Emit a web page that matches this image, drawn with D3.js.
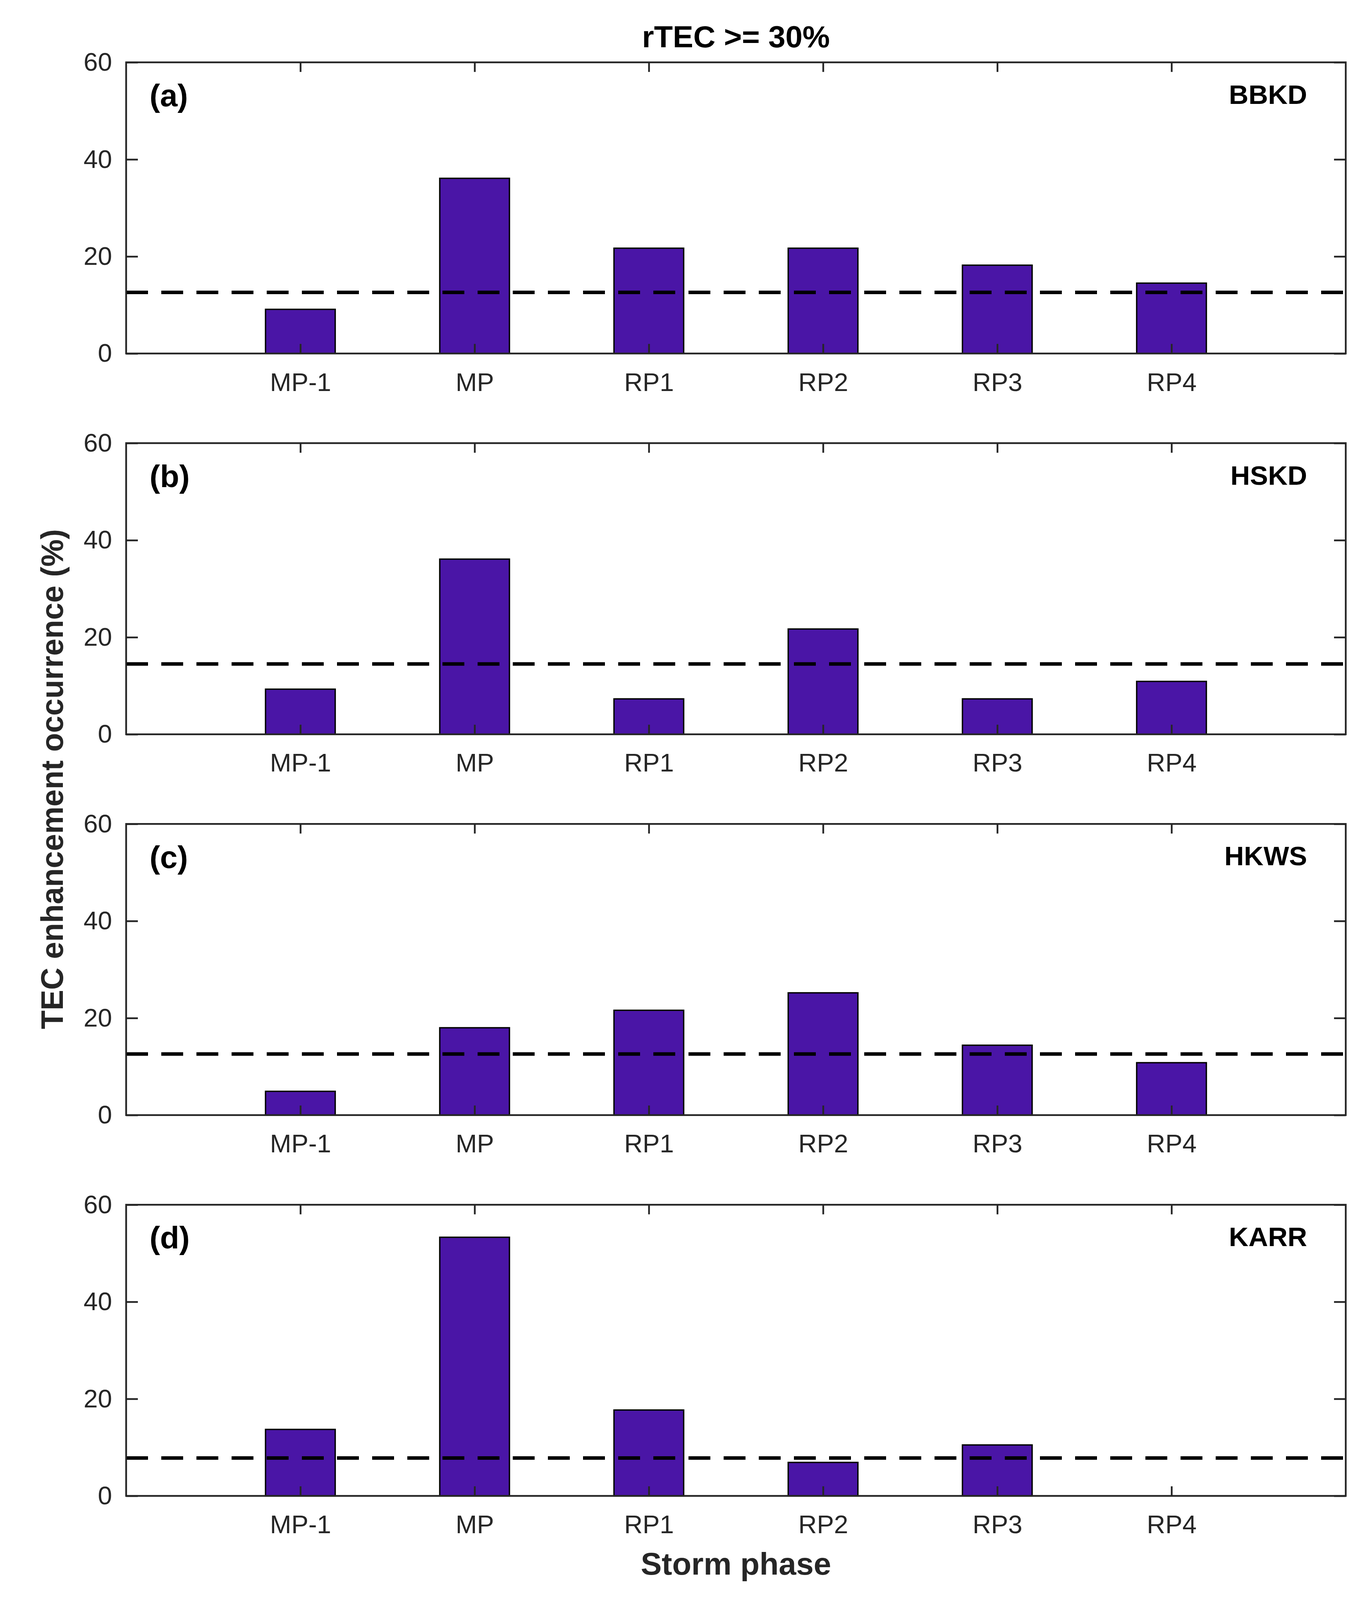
<!DOCTYPE html>
<html>
<head>
<meta charset="utf-8">
<script src="https://cdn.jsdelivr.net/npm/d3@7"></script>
<style>
    html, body { margin: 0; padding: 0; background: #ffffff; overflow: hidden; }
    svg { display: block; }
    text { font-family: "Liberation Sans", Arial, Helvetica, sans-serif; }
</style>
</head>
<body>
<div id="container"></div>
<script>
// Chart data
var phases = ["MP-1", "MP", "RP1", "RP2", "RP3", "RP4"]
var stations = ["BBKD", "HSKD", "HKWS", "KARR"]
var panel_tags = ["(a)", "(b)", "(c)", "(d)"]
var bbkd_values = [9.1, 36.1, 21.7, 21.7, 18.2, 14.5]
var hskd_values = [9.3, 36.1, 7.3, 21.7, 7.3, 10.9]
var hkws_values = [4.9, 18.0, 21.6, 25.2, 14.4, 10.8]
var karr_values = [13.7, 53.3, 17.7, 6.9, 10.5, 0]
var mean_levels = [12.6, 14.5, 12.6, 7.8]
var y_ticks = [0, 20, 40, 60]

var series = [bbkd_values, hskd_values, hkws_values, karr_values]

// Layout is designed for 3503x4671 and stretched to whatever window we get
var base_w = 3503, base_h = 4671
var width = window.innerWidth || base_w
var height = window.innerHeight || base_h
var sx = width / base_w
var sy = Math.min(height / base_h, 1)
height = Math.round(base_h * sy)

var left = 323 * sx, right = 3446 * sx
var first_top = 182 * sy, step = 1111.7 * sy, plot_h = 850 * sy
var fs = Math.sqrt(sx * sy)   // horizontal texts
var bar_color = "#4a15a6"
var axis_color = "#262626"

var svg = d3.select("#container").append("svg")
        .attr("width", width)
        .attr("height", height)

svg.append("rect").attr("width", width).attr("height", height).attr("fill", "#ffffff")

var x = d3.scaleLinear().domain([0, phases.length + 1]).range([left, right])

function draw_panel(k) {
    var top = first_top + k * step
    var bottom = top + plot_h
    var y = d3.scaleLinear().domain([0, 60]).range([bottom, top])
    var g = svg.append("g")
    var values = series[k]

    // Bars
    g.selectAll("rect.bar").data(values).enter().append("rect")
            .attr("class", "bar")
            .attr("x", function(d, i) { return x(i + 1 - 0.2) })
            .attr("width", x(0.4) - x(0))
            .attr("y", function(d) { return y(d) })
            .attr("height", function(d) { return y(0) - y(d) })
            .attr("fill", bar_color)
            .attr("stroke", "#000000")
            .attr("stroke-width", 3.5)

    // Mean level
    g.append("line")
            .attr("x1", x(0)).attr("x2", x(phases.length + 1))
            .attr("y1", y(mean_levels[k])).attr("y2", y(mean_levels[k]))
            .attr("stroke", "#000000")
            .attr("stroke-width", 9)
            .attr("stroke-dasharray", (56 * sx) + "," + (34 * sx))

    // Axes (ticks pointing inward on all four sides)
    var xb = d3.axisBottom(x).tickValues(d3.range(1, phases.length + 1))
            .tickFormat(function(d) { return phases[d - 1] })
            .tickSizeInner(-28 * sy).tickSizeOuter(0).tickPadding(56 * sy)
    var xt = d3.axisTop(x).tickValues(d3.range(1, phases.length + 1))
            .tickFormat("").tickSizeInner(-28 * sy).tickSizeOuter(0)
    var yl = d3.axisLeft(y).tickValues(y_ticks)
            .tickSizeInner(-30 * sx).tickSizeOuter(0).tickPadding(36 * sx)
    var yr = d3.axisRight(y).tickValues(y_ticks)
            .tickFormat("").tickSizeInner(-30 * sx).tickSizeOuter(0)

    var axes = [
        [xb, "translate(0," + bottom + ")"],
        [xt, "translate(0," + top + ")"],
        [yl, "translate(" + left + ",0)"],
        [yr, "translate(" + right + ",0)"]
    ]
    axes.forEach(function(a) {
        var ag = g.append("g").attr("transform", a[1]).call(a[0])
        ag.select(".domain").remove()
        ag.selectAll("line").attr("stroke", axis_color).attr("stroke-width", 4.5)
        ag.selectAll("text")
                .attr("fill", axis_color)
                .style("font-size", (70 * fs) + "px")
                .style("font-family", "'Liberation Sans', Arial, sans-serif")
    })

    // Frame
    g.append("rect")
            .attr("x", left).attr("y", top)
            .attr("width", right - left).attr("height", plot_h)
            .attr("fill", "none")
            .attr("stroke", axis_color)
            .attr("stroke-width", 4.5)

    // Panel tag and station name
    g.append("text")
            .attr("x", 383 * sx).attr("y", top + 128 * sy)
            .attr("font-size", 86 * fs).attr("font-weight", "bold")
            .attr("fill", "#000000")
            .text(panel_tags[k])
    g.append("text")
            .attr("x", 3347 * sx).attr("y", top + 121 * sy)
            .attr("text-anchor", "end")
            .attr("font-size", 74 * fs).attr("font-weight", "bold")
            .attr("fill", "#000000")
            .text(stations[k])
}

for (var k = 0; k < series.length; k++) {
    draw_panel(k)
}

var mid_x = (left + right) / 2

svg.append("text")
        .attr("x", mid_x).attr("y", 138 * sy)
        .attr("text-anchor", "middle")
        .attr("font-size", 84 * fs).attr("font-weight", "bold")
        .attr("fill", "#000000")
        .text("rTEC >= 30%")

svg.append("text")
        .attr("x", mid_x).attr("y", 4597 * sy)
        .attr("text-anchor", "middle")
        .attr("font-size", 86 * fs).attr("font-weight", "bold")
        .attr("fill", axis_color)
        .text("Storm phase")

var mid_y = (first_top + first_top + 3 * step + plot_h) / 2
svg.append("text")
        .attr("transform", "translate(" + (161 * sx) + "," + mid_y + ") rotate(-90)")
        .attr("text-anchor", "middle")
        .attr("font-size", 90 * sy).attr("font-weight", "bold")
        .attr("fill", axis_color)
        .text("TEC enhancement occurrence (%)")
</script>
</body>
</html>
